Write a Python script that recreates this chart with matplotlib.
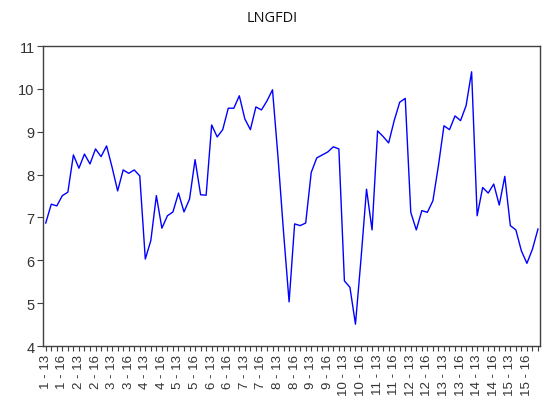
import matplotlib
matplotlib.use("Agg")
import matplotlib.pyplot as plt
import numpy as np

values = [6.87, 7.31, 7.27, 7.51, 7.59, 8.46, 8.15, 8.48, 8.25, 8.60,
          8.42, 8.67, 8.17, 7.62, 8.11, 8.03, 8.11, 7.97, 6.03, 6.46,
          7.51, 6.75, 7.04, 7.13, 7.57, 7.13, 7.43, 8.35, 7.53, 7.52,
          9.16, 8.88, 9.05, 9.55, 9.55, 9.84, 9.30, 9.05, 9.58, 9.51,
          9.72, 9.98, 8.40, 6.65, 5.03, 6.85, 6.81, 6.87, 8.05, 8.39,
          8.46, 8.53, 8.65, 8.60, 5.52, 5.37, 4.51, 6.03, 7.66, 6.71,
          9.02, 8.89, 8.74, 9.26, 9.69, 9.78, 7.12, 6.71, 7.16, 7.12,
          7.39, 8.21, 9.14, 9.05, 9.37, 9.26, 9.61, 10.40, 7.04, 7.70,
          7.57, 7.78, 7.29, 7.96, 6.81, 6.71, 6.22, 5.93, 6.26, 6.73]

ids = list(range(1, 16))
years = [13, 14, 15, 16, 17, 18]
obs_labels = [f"{i} - {y}" for i in ids for y in years]
label_years = [13, 16]

plt.rcParams['font.family'] = ['Liberation Sans', 'DejaVu Sans']

fig = plt.figure(figsize=(5.44, 4.06), dpi=100)
ax = fig.add_axes([0.079, 0.1453, 0.914, 0.7387])

x = np.arange(len(values))
ax.plot(x, values, color="#0000ff", linewidth=1.0)

ax.set_xlim(-0.5, len(values) - 1 + 0.4)
ax.set_ylim(4, 11)
ax.set_yticks(range(4, 12))
ax.tick_params(axis="y", direction="out", length=4, width=0.8, color="#404040",
               labelsize=10.5, labelcolor="#333333", pad=2)

ax.set_xticks(x, minor=True)
major_pos = [i for i, lab in enumerate(obs_labels) if int(lab.split(" - ")[1]) in label_years]
ax.set_xticks(major_pos)
ax.set_xticklabels([obs_labels[i] for i in major_pos], rotation=90, fontsize=9.5, color="#333333")
ax.tick_params(axis="x", which="both", direction="out", length=3.5, width=0.8, color="#404040", pad=2)

for s in ax.spines.values():
    s.set_color("#404040")
    s.set_linewidth(1.0)

fig.text(0.5, 0.955, "LNGFDI", ha="center", va="center", fontsize=10.5, color="#111111",
         family="Open Sans")

fig.savefig("out.png", dpi=100)
